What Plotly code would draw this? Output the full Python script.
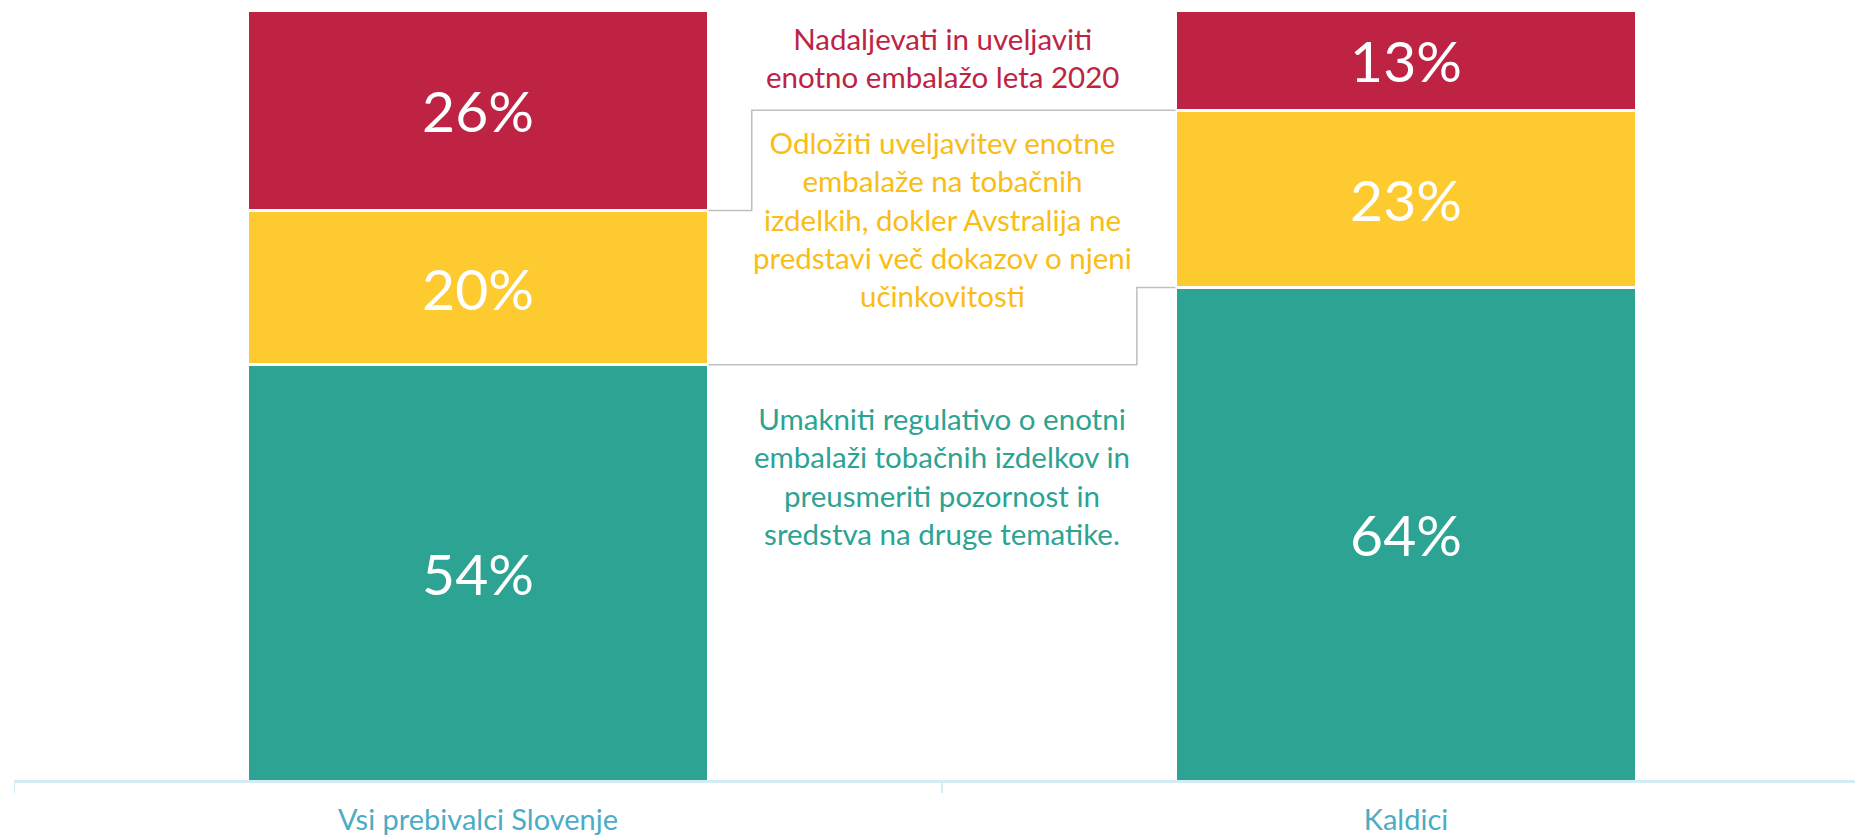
import plotly.graph_objects as go

categories = ["Vsi prebivalci Slovenje", "Kaldici"]
series_names = [
    "Umakniti regulativo o enotni embalaži tobačnih izdelkov in preusmeriti pozornost in sredstva na druge tematike.",
    "Odložiti uveljavitev enotne embalaže na tobačnih izdelkih, dokler Avstralija ne predstavi več dokazov o njeni učinkovitosti",
    "Nadaljevati in uveljaviti enotno embalažo leta 2020",
]
green_vals = [54, 64]
yellow_vals = [20, 23]
red_vals = [26, 13]

colors = ["#2ca393", "#fdca30", "#be2344"]
text_colors = ["#2ca393", "#f9bd15", "#be2344"]
wrapped = [
    "Umakniti regulativo o enotni<br>embalaži tobačnih izdelkov in<br>preusmeriti pozornost in<br>sredstva na druge tematike.",
    "Odložiti uveljavitev enotne<br>embalaže na tobačnih<br>izdelkih, dokler Avstralija ne<br>predstavi več dokazov o njeni<br>učinkovitosti",
    "Nadaljevati in uveljaviti<br>enotno embalažo leta 2020",
]

FONT = "Lato"
AXIS_COL = "#d3ebf3"
BAR_W = 0.497
W, H = 1855, 836
ML, MT, MB = 14, 10, 48
unit_px = 928.0
x_hi = -0.5 + (W - ML) / unit_px
PH = H - MT - MB

fig = go.Figure()
all_vals = [green_vals, yellow_vals, red_vals]
xpos = [0, 1]
for vals, col, name in zip(all_vals, colors, series_names):
    fig.add_trace(go.Bar(
        x=xpos, y=vals, name=name, width=BAR_W,
        marker=dict(color=col, line=dict(color="white", width=3)),
        text=[f"{v}%" for v in vals], textposition="inside",
        insidetextanchor="middle", constraintext="none",
        textfont=dict(color="white", size=57, family=FONT),
        hoverinfo="skip", showlegend=False,
    ))

# series (connector) lines between the stacked boundaries
cum_green = green_vals
cum_yellow = [g + y for g, y in zip(green_vals, yellow_vals)]
elbows = [0.71, 0.295]
for cum, ex in zip([cum_green, cum_yellow], elbows):
    fig.add_trace(go.Scatter(
        x=[BAR_W / 2, ex, ex, 1 - BAR_W / 2],
        y=[cum[0], cum[0], cum[1], cum[1]],
        mode="lines", line=dict(color="#bfbfbf", width=1.5),
        hoverinfo="skip", showlegend=False,
    ))

# series name annotations between bars (pixel centers in page coords)
ann_y = [480, 221, 58]
for txt, tc, py in zip(wrapped, text_colors, ann_y):
    fig.add_annotation(
        x=0.5, xref="x", y=1 - (py - MT) / PH, yref="paper",
        text=txt, showarrow=False, align="center",
        font=dict(color=tc, size=29.5, family=FONT),
        xanchor="center", yanchor="middle",
    )

fig.update_layout(
    barmode="stack",
    width=W, height=H,
    margin=dict(l=ML, r=0, t=MT, b=MB, pad=0),
    plot_bgcolor="white", paper_bgcolor="white",
    xaxis=dict(
        range=[-0.5, x_hi], tickvals=xpos, ticktext=categories,
        showgrid=False, zeroline=False,
        showline=True, linecolor=AXIS_COL, linewidth=2,
        ticks="", ticklabelstandoff=12,
        tickfont=dict(color="#4bacc6", size=29, family=FONT),
        fixedrange=True,
    ),
    yaxis=dict(range=[0, 100], visible=False, fixedrange=True),
)
# extend axis line to the right edge
fig.add_shape(type="line", xref="paper", yref="paper", x0=0, x1=1.02,
              y0=0, y1=0, line=dict(color=AXIS_COL, width=2))
# boundary tick marks
for bx in [-0.5, 0.5]:
    fig.add_shape(type="line", xref="x", yref="paper", x0=bx, x1=bx,
                  y0=0, y1=-12 / PH,
                  line=dict(color=AXIS_COL, width=2))

fig.write_html(
    "out.html",
    config={"displayModeBar": False},
    post_script=(
        "document.documentElement.style.overflow='hidden';"
        "document.body.style.overflow='hidden';"
        "document.body.style.margin='0';"
    ),
)
